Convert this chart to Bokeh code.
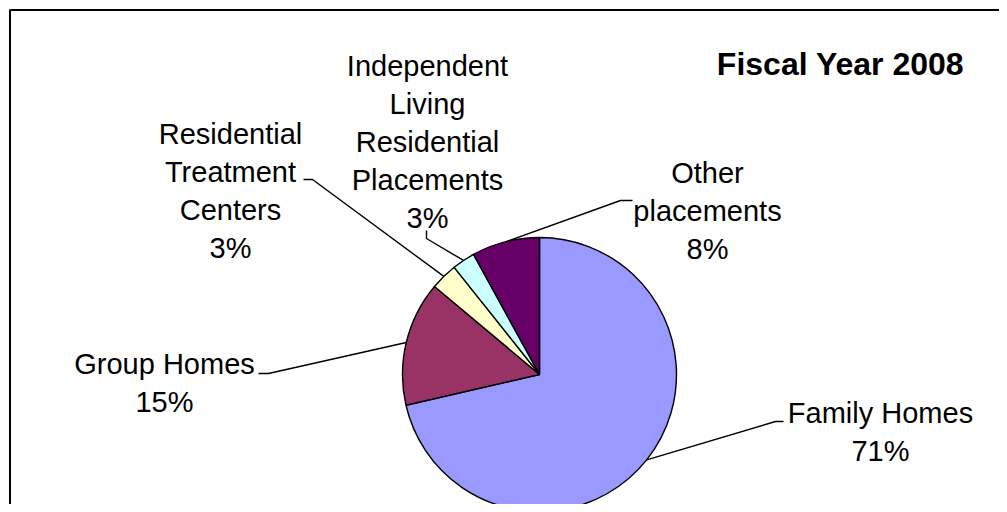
import numpy as np
from bokeh.plotting import figure
from bokeh.models import Range1d, ColumnDataSource
from bokeh.core.properties import value
from bokeh.embed import file_html
from bokeh.resources import INLINE

# ---------------- data ----------------
title = "Fiscal Year 2008"
categories = [
    "Family Homes",
    "Group Homes",
    "Residential\nTreatment\nCenters",
    "Independent\nLiving\nResidential\nPlacements",
    "Other\nplacements",
]
shares = [71.4, 14.7, 3.2, 2.7, 8.0]
colors = ["#9999FF", "#993366", "#FFFFCC", "#CCFFFF", "#660066"]

# ---------------- layout (pixels) ----------------
W, H = 999, 504
CX, CY, R = 539, 374, 137
FONT = "Liberation Sans"
label_center_x = [880, 164, 230, 427, 707]
label_first_baseline = [412, 363, 133, 65, 172]
line_step = 38
# leader line: label-side anchor point, then elbow point, then pie edge
leader_anchor = [(783, 421), (258, 373), (303, 179), (426, 230), (632, 200)]
leader_elbow = [(775, 421), (268, 373), (312, 179), (426, 238), (620, 200)]


def Y(py):
    return H - py


p = figure(width=W, height=H, x_range=Range1d(0, W), y_range=Range1d(0, H),
           output_backend="svg", toolbar_location=None, min_border=0)
p.axis.visible = False
p.grid.visible = False
p.outline_line_color = None
p.background_fill_color = "white"
p.border_fill_color = "white"

# frame (left and top edges visible)
p.line(x=[9.5, 9.5, W + 10], y=[Y(H + 10), Y(9.5), Y(9.5)], line_color="black", line_width=2)

# pie: clockwise from 12 o'clock
vals = np.array(shares, dtype=float)
frac = vals / vals.sum()
cum = np.concatenate([[0], np.cumsum(frac)])
start = np.pi / 2 - cum[1:] * 2 * np.pi
end = np.pi / 2 - cum[:-1] * 2 * np.pi
mid = (start + end) / 2

src = ColumnDataSource(dict(start=start, end=end, color=colors))
p.wedge(x=CX, y=Y(CY), radius=R, start_angle="start", end_angle="end",
        fill_color="color", line_color="black", line_width=1.4, source=src)

# leader lines
xs, ys = [], []
for i in range(len(categories)):
    ex = CX + R * np.cos(mid[i])
    ey = CY - R * np.sin(mid[i])
    ax, ay = leader_anchor[i]
    bx, by = leader_elbow[i]
    xs.append([ax, bx, ex])
    ys.append([Y(ay), Y(by), Y(ey)])
p.multi_line(xs=xs, ys=ys, line_color="black", line_width=1.4)

# labels
tx, ty, tt = [], [], []
for i, name in enumerate(categories):
    pct = f"{round(frac[i] * 100):d}%"
    lines = name.split("\n") + [pct]
    for j, ln in enumerate(lines):
        tx.append(label_center_x[i])
        ty.append(Y(label_first_baseline[i] + j * line_step))
        tt.append(ln)
p.text(x=tx, y=ty, text=tt, text_align="center", text_baseline="alphabetic",
       text_font=value(FONT), text_font_size="29px", text_color="black")

# title
p.text(x=[840], y=[Y(63)], text=[title], text_align="center", text_baseline="alphabetic",
       text_font=value(FONT), text_font_size="32px", text_font_style="bold", text_color="black")

open("out.html", "w").write(file_html(p, INLINE))
